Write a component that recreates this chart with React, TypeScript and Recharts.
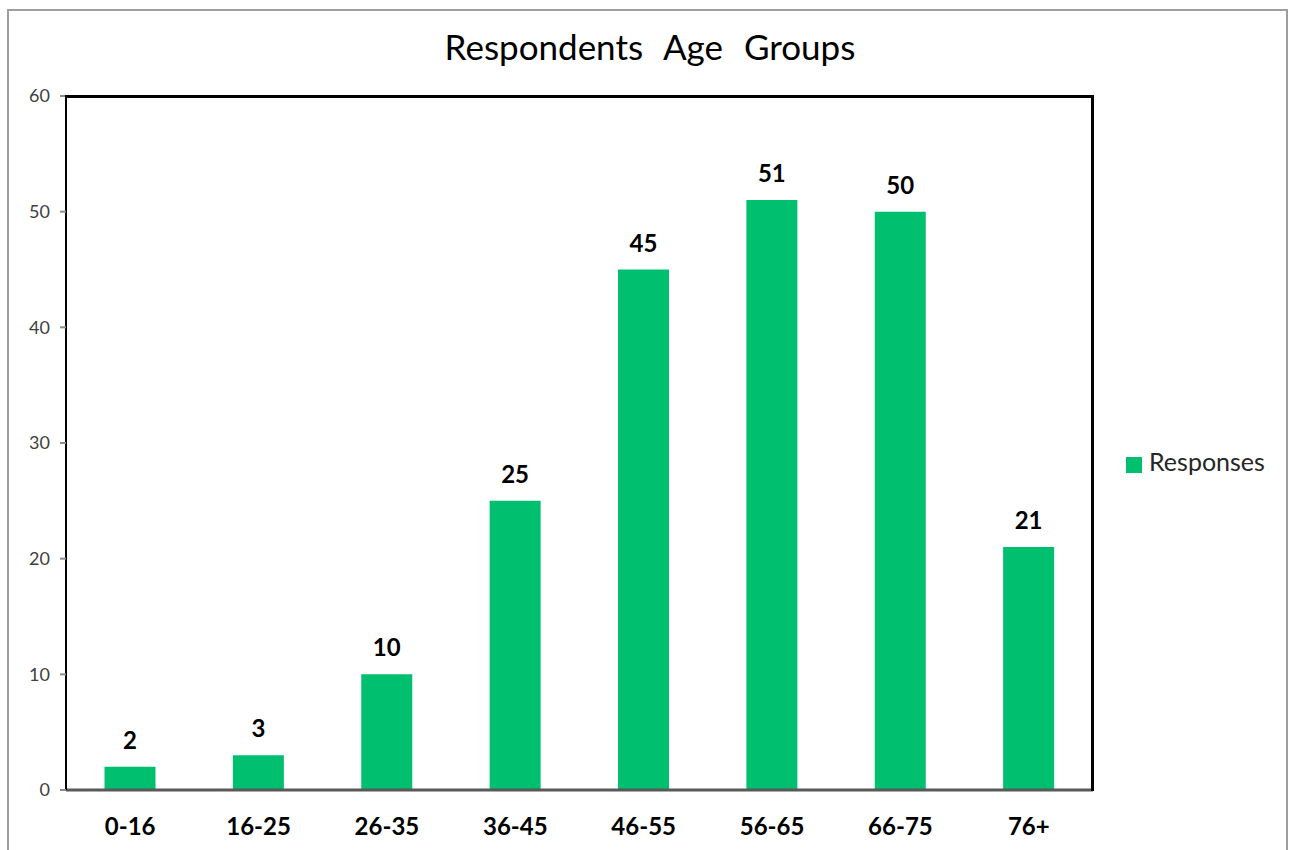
import React from "react"
import { BarChart, Bar, XAxis, YAxis, Legend, LabelList } from "recharts"

const ageGroups = ["0-16", "16-25", "26-35", "36-45", "46-55", "56-65", "66-75", "76+"]
const responses = [2, 3, 10, 25, 45, 51, 50, 21]
const yTicks = [0, 10, 20, 30, 40, 50, 60]
const boundaryTicks = [0, 1, 2, 3, 4, 5, 6, 7, 8]

const data = ageGroups.map((g, i) => ({ group: g, Responses: responses[i] }))

const GREEN = "#00BF6F"
const FONT = "Lato, 'Open Sans', sans-serif"

export default function App() {
  return (
    <div style={{ position: "absolute", left: 0, top: 0, width: 1292, height: 850, background: "#fff", fontFamily: FONT }}>
      <div style={{ position: "absolute", left: 7, top: 9, width: 1281, height: 850, border: "2px solid #9e9e9e", boxSizing: "border-box" }} />
      <div style={{ position: "absolute", left: 0, top: 25, width: 1300, textAlign: "center", fontSize: 35, color: "#000", wordSpacing: 12 }}>
        Respondents Age Groups
      </div>
      <div style={{ position: "absolute", left: 0, top: 0 }}>
        <BarChart width={1292} height={850} data={data} margin={{ top: 96, right: 199, bottom: 10, left: 16 }} barCategoryGap="30%">
          <XAxis
            xAxisId="b"
            dataKey="group"
            height={42}
            axisLine={false}
            tickLine={false}
            tick={{ fontSize: 24, fontWeight: 700, fill: "#000", fontFamily: FONT, dy: 12 }}
            interval={0}
          />
          <XAxis
            xAxisId="a"
            type="number"
            domain={[0, 8]}
            ticks={boundaryTicks}
            tick={false}
            tickSize={8}
            height={8}
            allowDataOverflow
            axisLine={{ stroke: "#595959", strokeWidth: 3 }}
            tickLine={{ stroke: "#8c8c8c", strokeWidth: 2 }}
          />
          <YAxis
            width={50}
            domain={[0, 60]}
            ticks={yTicks}
            tickSize={6}
            axisLine={{ stroke: "#000", strokeWidth: 2 }}
            tickLine={{ stroke: "#8c8c8c", strokeWidth: 2 }}
            tick={{ fontSize: 18, fill: "#404040", fontFamily: FONT, dx: -8 }}
          />
          <Legend
            layout="vertical"
            align="center"
            verticalAlign="middle"
            iconType="square"
            iconSize={16}
            wrapperStyle={{ left: 1126, top: 446, width: 165, fontSize: 25, fontFamily: FONT }}
            formatter={(v: any) => <span style={{ color: "#262626", marginLeft: 3 }}>{v}</span>}
          />
          <Bar xAxisId="b" dataKey="Responses" fill={GREEN} isAnimationActive={false}>
            <LabelList dataKey="Responses" position="top" offset={18} style={{ fontSize: 24, fontWeight: 700, fill: "#000", fontFamily: FONT }} />
          </Bar>
        </BarChart>
      </div>
      <div style={{ position: "absolute", left: 65, top: 95, width: 1029, height: 696, borderTop: "3px solid #000", borderRight: "3px solid #000", boxSizing: "border-box", pointerEvents: "none" }} />
    </div>
  )
}
